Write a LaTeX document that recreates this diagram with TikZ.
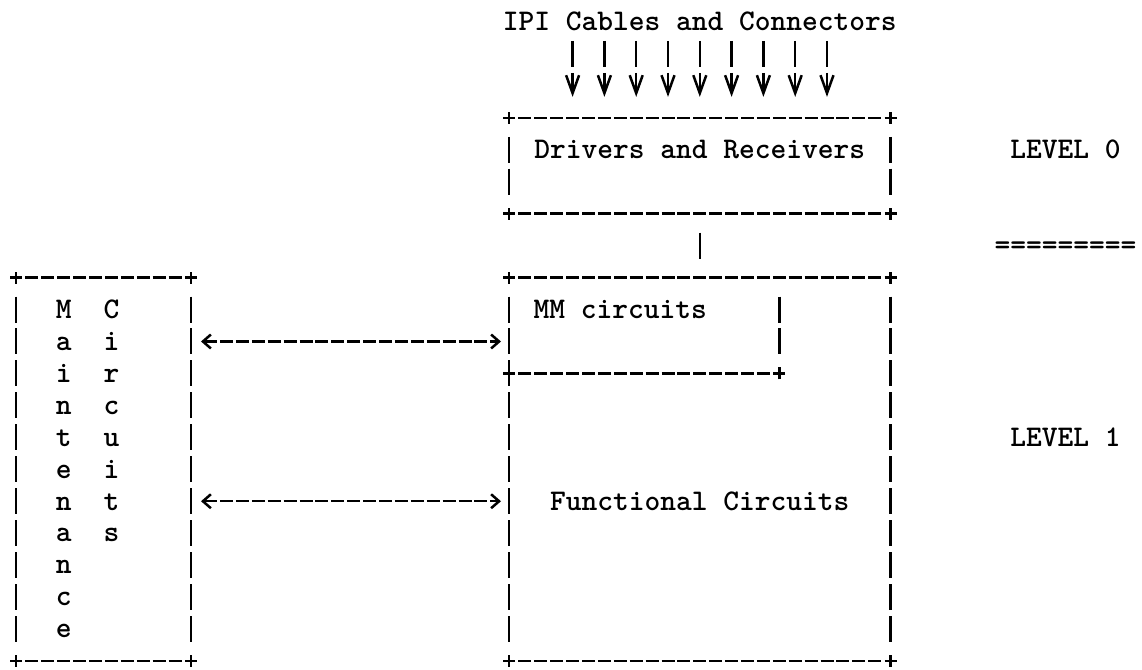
\documentclass[tikz,border=0pt]{standalone}
\usepackage{fontspec}
\usetikzlibrary{arrows.meta,fit}

\begin{document}
\begin{tikzpicture}[x=7.95pt,y=-15.975pt,line width=1.25pt,
  txt/.style={font=\fontsize{15}{16}\selectfont\ttfamily\bfseries,inner sep=0pt,anchor=base,yshift=-4.4pt},
  box/.style={inner sep=0pt,outer sep=0pt},
  hrule/.style={dash pattern=on 6.5pt off 1.45pt,shorten <=4.7pt,shorten >=4.7pt},
  vrule/.style={dash pattern=on 13pt off 2.975pt,shorten <=9.475pt,shorten >=9.475pt},
  cable/.style={-{Straight Barb[length=9pt,width=6.5pt]},dash pattern=on 13pt off 2.975pt,shorten <=1.49pt},
  link/.style={{Straight Barb[length=4pt,width=7pt]}-{Straight Barb[length=4pt,width=7pt]},dash pattern=on 6.5pt off 1.45pt,shorten <=5pt,shorten >=4pt}]
\useasboundingbox (-32.013,-0.6886) rectangle (39.811,20.282);
\node[txt] (title) at (12,0) {IPI Cables and Connectors};
\foreach \cx in {4,6,...,20}{\draw[cable] (\cx,0.5)--(\cx,2.344);}
\node[box,fit={(0,3) (24,6)}] (drv) {};
\node[box,fit={(0,8) (24,20)}] (fun) {};
\node[box,fit={(0,8) (17,11)}] (mm) {};
\node[box,fit={(-31,8) (-20,20)}] (mnt) {};
\foreach \bx in {drv,fun,mnt}{
  \draw[hrule] (\bx.north west)--(\bx.north east);
  \draw[hrule] (\bx.south west)--(\bx.south east);
  \draw[vrule] (\bx.north west)--(\bx.south west);
  \draw[vrule] (\bx.north east)--(\bx.south east);
  \foreach \k in {north west,north east,south west,south east}
    \draw (\bx.\k) +(-3pt,0)--+(3pt,0) +(0,-3pt)--+(0,3pt);
}
\draw[hrule] (mm.south west)--(mm.south east);
\draw[vrule] (mm.north east)--(mm.south east);
\foreach \k in {south west,south east}
  \draw (mm.\k) +(-3pt,0)--+(3pt,0) +(0,-3pt)--+(0,3pt);
\draw[vrule] (drv.south)--(fun.north);
\node[txt] (drvtxt) at (12,4) {Drivers and Receivers};
\node[txt] (mmtxt) at (7,9) {MM circuits};
\node[txt] (funtxt) at (12,15) {Functional Circuits};
\foreach \ch [count=\i from 9] in {M,a,i,n,t,e,n,a,n,c,e}
  \node[txt] (mnt\i) at (-28,\i) {\ch};
\foreach \ch [count=\i from 9] in {C,i,r,c,u,i,t,s}
  \node[txt] (cir\i) at (-25,\i) {\ch};
\coordinate (mmrow) at (0,10);
\coordinate (fcrow) at (0,15);
\draw[link] (mnt.east|-mmrow)--(fun.west|-mmrow);
\draw[link] (mnt.east|-fcrow)--(fun.west|-fcrow);
\node[txt] (lvl0) at (35,4) {LEVEL 0};
\node[txt] (sep) at (35,7) {=========};
\node[txt] (lvl1) at (35,13) {LEVEL 1};
\end{tikzpicture}
\end{document}
